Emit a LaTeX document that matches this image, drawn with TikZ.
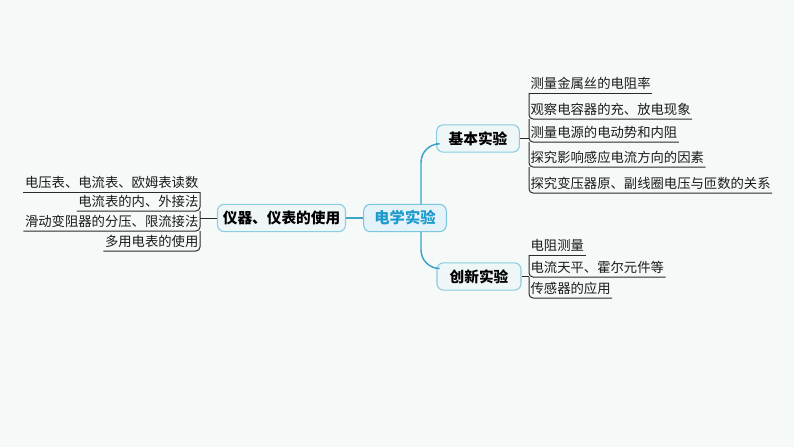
\documentclass[tikz,border=0pt]{standalone}
\usepackage{fontspec}
\setmainfont{Noto Sans CJK SC}
\definecolor{bgcol}{HTML}{F5F9F7}
\definecolor{topicfill}{HTML}{EEF6F8}
\definecolor{topicline}{HTML}{8ACCE0}
\definecolor{rootfill}{HTML}{E4F3F9}
\definecolor{rootline}{HTML}{7CC6E0}
\definecolor{roottext}{HTML}{1E9BCD}
\definecolor{trunkcol}{HTML}{3CA3C9}
\definecolor{twigcol}{HTML}{2B2B2B}
\definecolor{leaftext}{HTML}{1A1A1A}
\begin{document}
\begin{tikzpicture}[x=0.75pt, y=-0.75pt,
    base/.style = {rectangle, rounded corners=5pt, draw=topicline, fill=topicfill,
line width=0.8pt, minimum width=62pt, minimum height=20.5pt, inner xsep=4pt,
font=\fontsize{11}{13}\selectfont\bfseries, text=black},
    root/.style = {base, fill=rootfill, draw=rootline, text=roottext,
font=\fontsize{11.5}{13}\selectfont\bfseries},
    leaf/.style = {inner xsep=1pt, inner ysep=2.5pt,
font=\fontsize{10}{12}\selectfont, text=leaftext},
    twig/.style = {draw=twigcol, line width=0.75pt, rounded corners=3pt},
    trunk/.style = {draw=trunkcol, line width=1.1pt, rounded corners=14pt}
]
  \fill[bgcol] (0,0) rectangle (794,447);
  \useasboundingbox (0,0) rectangle (794,447);

  \node (ctr) [root] at (405,218) {电学实验};
  \node (yq)  [base, minimum width=95pt] at (281.5,218) {仪器、仪表的使用};
  \node (jb)  [base] at (478,138.5) {基本实验};
  \node (cx)  [base, minimum width=63pt] at (479,276.5) {创新实验};

  \draw[trunk] (ctr.west) -- (yq.east);
  \draw[trunk] ([xshift=12pt]ctr.north) |- ([yshift=-4pt]jb.west);
  \draw[trunk] ([xshift=12pt]ctr.south) |- ([yshift=6pt]cx.west);

  % left leaves
  \node (m1) [leaf, anchor=south east] at (200,192) {电压表、电流表、欧姆表读数};
  \node (m2) [leaf, anchor=south east] at (200,211) {电流表的内、外接法};
  \node (m3) [leaf, anchor=south east] at (200,231) {滑动变阻器的分压、限流接法};
  \node (m4) [leaf, anchor=south east] at (200,251) {多用电表的使用};

  \draw[twig] (m1.south west) -- (m1.south east);
  \draw[twig] (m1.south east) |- (m2.south west);
  \draw[twig] (m2.south east) |- (m3.south west);
  \draw[twig] (m3.south east) |- (m4.south west);
  \draw[twig] (yq.west) -- (yq.west -| m1.south east);

  % basic experiments
  \node (a1) [leaf, anchor=south west] at (529,93)  {测量金属丝的电阻率};
  \node (a2) [leaf, anchor=south west] at (529,119) {观察电容器的充、放电现象};
  \node (a3) [leaf, anchor=south west] at (529,142) {测量电源的电动势和内阻};
  \node (a4) [leaf, anchor=south west] at (529,167) {探究影响感应电流方向的因素};
  \node (a5) [leaf, anchor=south west] at (529,193) {探究变压器原、副线圈电压与匝数的关系};

  \draw[twig] (a1.south west) -- (a1.south east);
  \draw[twig] (a1.south west) |- (a2.south east);
  \draw[twig] (a2.south west) |- (a3.south east);
  \draw[twig] (a3.south west) |- (a4.south east);
  \draw[twig] (a4.south west) |- (a5.south east);
  \draw[twig] (jb.east) -- (jb.east -| a1.south west);

  % new experiments
  \node (b1) [leaf, anchor=south west] at (529,255) {电阻测量};
  \node (b2) [leaf, anchor=south west] at (529,277) {电流天平、霍尔元件等};
  \node (b3) [leaf, anchor=south west] at (529,298) {传感器的应用};

  \draw[twig] (b1.south west) -- (b1.south east);
  \draw[twig] (b1.south west) |- (b2.south east);
  \draw[twig] (b2.south west) |- (b3.south east);
  \draw[twig] (cx.east) -- (cx.east -| b1.south west);

\end{tikzpicture}
\end{document}
